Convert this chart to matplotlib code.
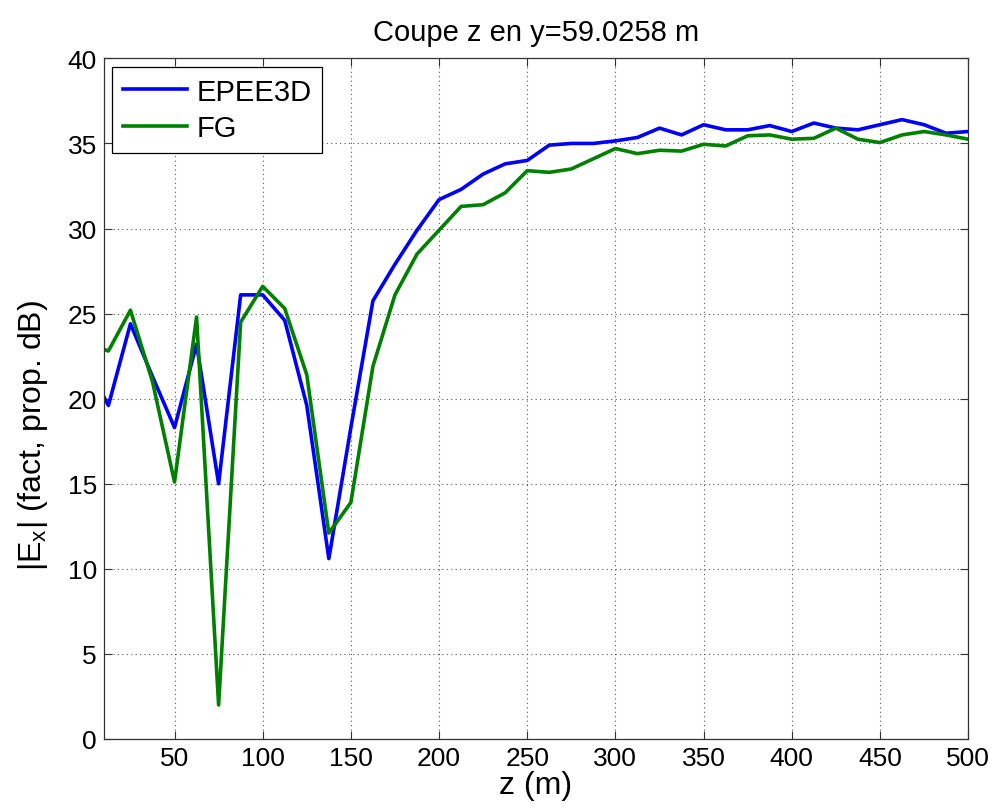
import matplotlib
matplotlib.use('Agg')
import matplotlib.pyplot as plt
import numpy as np

## 데이터
z = [10, 12.5, 25, 37.5, 50, 62.5, 75, 87.5, 100, 112.5, 125, 137.5, 150,
     162.5, 175, 187.5, 200, 212.5, 225, 237.5, 250, 262.5, 275, 287.5,
     300, 312.5, 325, 337.5, 350, 362.5, 375, 387.5, 400, 412.5, 425,
     437.5, 450, 462.5, 475, 487.5, 500]

ex_epee3d = [20.1, 19.6, 24.4, 21.3, 18.3, 23.2, 15.0, 26.1, 26.1, 24.6,
             19.6, 10.6, 18.3, 25.75, 27.9, 29.9, 31.7, 32.3, 33.2, 33.8,
             34.0, 34.9, 35.0, 35.0, 35.15, 35.35, 35.9, 35.5, 36.1, 35.8,
             35.8, 36.05, 35.7, 36.2, 35.9, 35.8, 36.1, 36.4, 36.1, 35.6,
             35.7]

ex_fg = [22.9, 22.8, 25.2, 21.0, 15.1, 24.8, 2.0, 24.5, 26.6, 25.3,
         21.4, 12.1, 13.9, 21.9, 26.1, 28.5, 29.9, 31.3, 31.4, 32.1,
         33.4, 33.3, 33.5, 34.1, 34.7, 34.4, 34.6, 34.55, 34.95, 34.85,
         35.45, 35.5, 35.25, 35.3, 35.9, 35.25, 35.05, 35.5, 35.7, 35.5,
         35.25]

x_ticks = [50, 100, 150, 200, 250, 300, 350, 400, 450, 500]
y_ticks = [0, 5, 10, 15, 20, 25, 30, 35, 40]

plt.rcParams['font.family'] = ['Liberation Sans', 'DejaVu Sans']
plt.rcParams['mathtext.fontset'] = 'custom'
plt.rcParams['mathtext.rm'] = 'Liberation Sans'

fig = plt.figure(figsize=(9.95, 8.12), dpi=100)
ax = fig.add_axes([0.1045, 0.0887, 0.8685, 0.8382])

ax.plot(z, ex_epee3d, color='#0000ff', lw=2.6, label='EPEE3D')
ax.plot(z, ex_fg, color='#008000', lw=2.6, label='FG')

ax.set_xlim(10, 500)
ax.set_ylim(0, 40)
ax.set_xticks(x_ticks)
ax.set_yticks(y_ticks)
ax.tick_params(direction='in', top=True, right=True, labelsize=19,
               length=6, width=0.8, color='#333333', pad=5)
for s in ax.spines.values():
    s.set_color('#333333')
    s.set_linewidth(0.9)

## MATLAB 스타일 점선 그리드
ax.grid(True, linestyle=(0, (1, 3)), color='#555555', linewidth=0.8)

ax.set_title('Coupe z en y=59.0258 m', fontsize=21, pad=13)
ax.set_xlabel('z (m)', fontsize=23)
ax.set_ylabel(r'|E$_\mathregular{x}$| (fact, prop. dB)', fontsize=23)
ax.xaxis.set_label_coords(0.5, -0.045)
ax.yaxis.set_label_coords(-0.062, 0.447)

leg = ax.legend(loc='upper left', fontsize=21, fancybox=False,
                edgecolor='black', framealpha=1, handlelength=2.2,
                handletextpad=0.3, borderaxespad=0.28, borderpad=0.38,
                labelspacing=0.28)
leg.get_frame().set_linewidth(0.9)

plt.savefig('out.png', dpi=100)
